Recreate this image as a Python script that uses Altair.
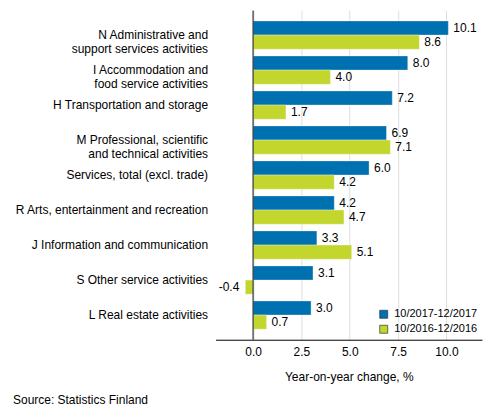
import altair as alt
import pandas as pd

categories = [
    "N Administrative and|support services activities",
    "I Accommodation and|food service activities",
    "H Transportation and storage",
    "M Professional, scientific|and technical activities",
    "Services, total (excl. trade)",
    "R Arts, entertainment and recreation",
    "J Information and communication",
    "S Other service activities",
    "L Real estate activities",
]
series = ["10/2017-12/2017", "10/2016-12/2016"]
values_2017 = [10.1, 8.0, 7.2, 6.9, 6.0, 4.2, 3.3, 3.1, 3.0]
values_2016 = [8.6, 4.0, 1.7, 7.1, 4.2, 4.7, 5.1, -0.4, 0.7]
colors = ["#0071b0", "#c2d62e"]
x_ticks = [0, 2.5, 5, 7.5, 10]

rows = []
for c, v1, v2 in zip(categories, values_2017, values_2016):
    rows.append({"cat": c, "series": series[0], "value": v1})
    rows.append({"cat": c, "series": series[1], "value": v2})
df = pd.DataFrame(rows)

FONT = "Liberation Sans"

y_enc = alt.Y("cat:N", sort=categories,
              scale=alt.Scale(paddingInner=0.19, paddingOuter=0.3),
              axis=alt.Axis(title=None, labelExpr="split(datum.label, '|')",
                            labelLineHeight=14, labelFontSize=12, labelFont=FONT,
                            labelColor="#000", labelPadding=8, ticks=False,
                            domain=False, labelLimit=300))
yoff = alt.YOffset("series:N", sort=series, scale=alt.Scale(paddingInner=0, paddingOuter=0))
x_scale = alt.Scale(domain=[-1.94, 11.84], nice=False, zero=False)

bars = alt.Chart(df).mark_bar(stroke="#ffffff", strokeOpacity=0.35, strokeWidth=1).encode(
    x=alt.X("value:Q", scale=x_scale,
            axis=alt.Axis(title="Year-on-year change, %", values=x_ticks, format=".1f",
                          grid=True, gridColor="#dedede", ticks=False,
                          domainColor="#000", labelFontSize=12, labelFont=FONT,
                          labelColor="#000", labelPadding=7, titleFont=FONT,
                          titleFontSize=12, titleFontWeight="normal", titleColor="#000",
                          titlePadding=14)),
    x2=alt.datum(0),
    y=y_enc,
    yOffset=yoff,
    color=alt.Color("series:N", sort=series,
                    scale=alt.Scale(domain=series, range=colors),
                    legend=alt.Legend(title=None, orient="none", legendX=163, legendY=299,
                                      symbolType="square", symbolSize=64,
                                      symbolStrokeColor="#333", symbolStrokeWidth=0.7,
                                      labelFontSize=11, labelFont=FONT, labelColor="#000",
                                      rowPadding=3, labelOffset=5)),
)

label_calc = "replace(format(datum.value, '.1f'), '\u2212', '-')"

pos_text = alt.Chart(df).transform_filter("datum.value >= 0").transform_calculate(
    lbl=label_calc
).mark_text(
    align="left", dx=5, fontSize=12, font=FONT, color="#000"
).encode(x="value:Q", y=alt.Y("cat:N", sort=categories), yOffset=yoff, text="lbl:N")

neg_text = alt.Chart(df).transform_filter("datum.value < 0").transform_calculate(
    lbl=label_calc
).mark_text(
    align="right", dx=-6, fontSize=12, font=FONT, color="#000"
).encode(x="value:Q", y=alt.Y("cat:N", sort=categories), yOffset=yoff, text="lbl:N")

zero_rule = alt.Chart(pd.DataFrame({"z": [0]})).mark_rule(color="#333", strokeWidth=1.2).encode(
    x="z:Q")

source = alt.Chart(pd.DataFrame({"t": ["Source: Statistics Finland"]})).mark_text(
    align="left", baseline="middle", fontSize=12, font=FONT, color="#000"
).encode(x=alt.value(-203), y=alt.value(390), text="t:N")

chart = alt.layer(bars, zero_rule, pos_text, neg_text, source).properties(
    width=267, height=330,
    autosize=alt.AutoSizeParams(type="none"),
    padding={"left": 208, "top": 2, "right": 3, "bottom": 68},
).configure_view(stroke=None)

chart.save("out.html", embed_options={"renderer": "svg", "actions": False})
